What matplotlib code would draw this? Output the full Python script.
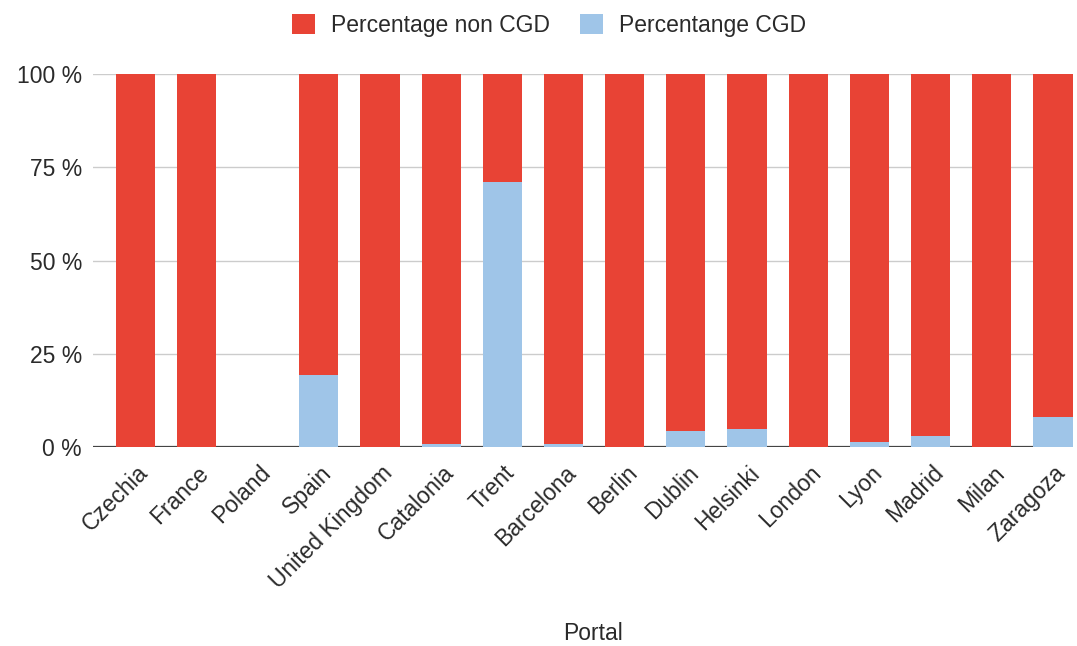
import matplotlib.pyplot as plt
import matplotlib.transforms as mtransforms
import numpy as np

plt.rcParams['font.family'] = ['Liberation Sans', 'DejaVu Sans']

portals = ['Czechia', 'France', 'Poland', 'Spain', 'United Kingdom', 'Catalonia',
           'Trent', 'Barcelona', 'Berlin', 'Dublin', 'Helsinki', 'London',
           'Lyon', 'Madrid', 'Milan', 'Zaragoza']

# share of datasets with CGD, in percent (Poland has no data at all)
pct_cgd = [0.0, 0.0, 0.0, 19.3, 0.0, 0.8, 71.1, 0.7, 0.0, 4.4, 4.9, 0.0,
           1.3, 2.9, 0.0, 8.0]
pct_non_cgd = [100.0, 100.0, 0.0, 80.7, 100.0, 99.2, 28.9, 99.3, 100.0, 95.6,
               95.1, 100.0, 98.7, 97.1, 100.0, 92.0]

red = '#e84335'
blue = '#9fc5e8'
text_col = '#2a2a2a'
fs = 16.5

fig = plt.figure(figsize=(10.77, 6.46), dpi=100)
ax = fig.add_axes([0.0864, 0.308, 0.910, 0.577])

x = np.arange(len(portals))
w = 0.64
ax.axhline(0, color='#444444', linewidth=1.6, zorder=1)
b1 = ax.bar(x, pct_cgd, w, color=blue, label='Percentange CGD', zorder=2)
b2 = ax.bar(x, pct_non_cgd, w, bottom=pct_cgd, color=red,
            label='Percentage non CGD', zorder=2)

ax.set_xlim(-0.69, 15.33)
ax.set_ylim(0, 100)
ax.set_yticks([0, 25, 50, 75, 100])
ax.set_yticklabels(['0 %', '25 %', '50 %', '75 %', '100 %'])
ax.yaxis.grid(True, color='#cccccc', linewidth=1, zorder=0)
ax.set_axisbelow(True)

ax.set_xticks(x)
ax.set_xticklabels(portals, rotation=45, ha='right', va='center',
                   rotation_mode='anchor')
ax.tick_params(axis='both', length=0, labelsize=fs, labelcolor=text_col)
ax.tick_params(axis='y', pad=8)
ax.tick_params(axis='x', pad=14)

# nudge the slanted labels so their ends sit just right of each bar
shift = mtransforms.ScaledTranslation(9 / 100, -3 / 100, fig.dpi_scale_trans)
for lbl in ax.get_xticklabels():
    lbl.set_transform(lbl.get_transform() + shift)

for s in ax.spines.values():
    s.set_visible(False)

ax.set_xlabel('Portal', fontsize=fs, color=text_col, va='center')
ax.xaxis.set_label_coords(0.510, -0.50)

fig.legend([b2, b1], ['Percentage non CGD', 'Percentange CGD'],
           loc='center', bbox_to_anchor=(0.510, 0.961), ncol=2,
           frameon=False, fontsize=fs, handlelength=1.0, handleheight=1.0,
           columnspacing=1.3, handletextpad=0.7, labelcolor=text_col)

fig.savefig('out.png', dpi=100)
